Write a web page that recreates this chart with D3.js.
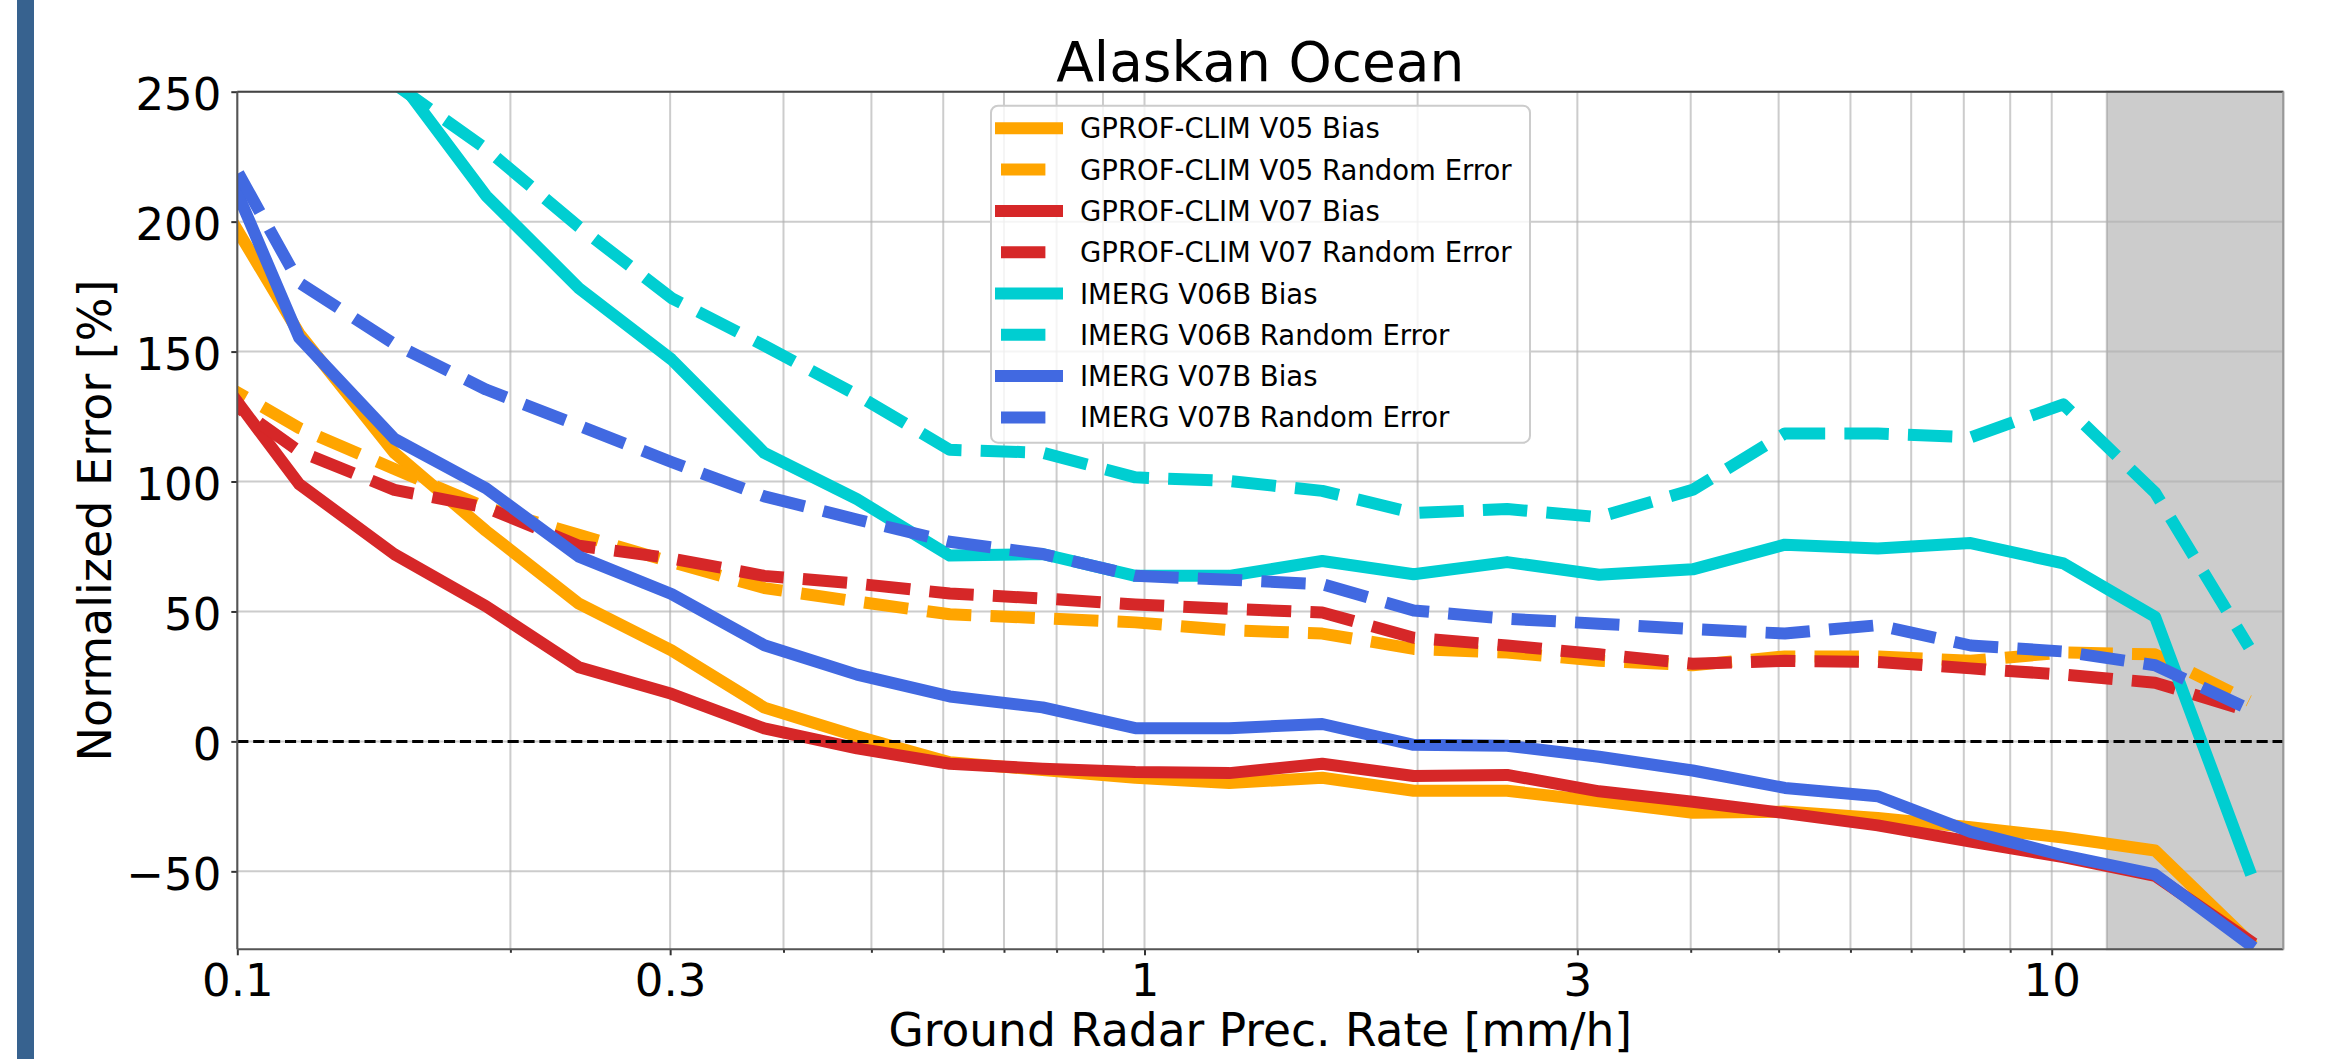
<!DOCTYPE html>
<html>
<head>
<meta charset="utf-8">
<script src="https://cdn.jsdelivr.net/npm/d3@7"></script>
<style>
  body { margin: 0; background: #fff; }
  text { font-family: "DejaVu Sans", sans-serif; fill: #000; }
</style>
</head>
<body>
<svg id="chart" width="2325" height="1059"></svg>
<script>
// ground radar precipitation rate bins [mm/h]
const rates = [0.0927, 0.117, 0.149, 0.188, 0.238, 0.301, 0.381, 0.482, 0.610, 0.772, 0.977, 1.24,
               1.57, 1.98, 2.51, 3.17, 4.02, 5.08, 6.43, 8.14, 10.3, 13.0, 16.5];

const v05Bias   = [216, 157, 111, 81, 53, 35, 13, 2, -8, -11, -14, -16, -14, -19, -19, -23, -27.5, -27, -29.5, -33, -37, -42, -77];
const v05Random = [141, 120.6, 104.8, 90, 79.5, 69, 59, 53.8, 48.9, 47.4, 45.8, 42.8, 41.5, 35.6, 34.2, 31, 29.3, 32.7, 32.7, 31, 34.2, 33.5, 15.6];
const v07Bias   = [146, 99, 72, 52, 28.5, 18.3, 5, -2.7, -8.6, -10.5, -11.8, -12.2, -8.6, -13.3, -12.9, -19.2, -23.2, -27.6, -32.3, -38.6, -44.5, -51.7, -76.5];
const v07Random = [137, 111.6, 96.8, 90, 75.3, 70.4, 63.7, 60.7, 56.9, 55, 52.7, 51, 49.6, 39.9, 36.9, 33.5, 29.9, 31, 30.6, 28.1, 25.7, 22.6, 11.6];
const im6Bias   = [340, 300, 257, 210, 174.4, 147, 111, 93.2, 71.5, 72.1, 63.7, 63.7, 69.4, 64.3, 69, 64.1, 66.2, 75.7, 74.2, 76.3, 68.5, 47.9, -49.1];
const im6Random = [320, 285, 253, 228, 198, 170.6, 152.3, 133.3, 112.2, 111.1, 101.6, 100.2, 96.4, 87.9, 89.4, 86.3, 96.8, 118.5, 118.5, 117, 129.7, 95.7, 36.3];
const im7Bias   = [238, 155.4, 116.4, 97.4, 71.1, 56.7, 37, 25.7, 17.3, 13.1, 5.1, 5.1, 6.7, -1.3, -1.7, -5.9, -11.2, -17.9, -21.1, -34.8, -43.9, -51.2, -78];
const im7Random = [240, 176.5, 152.9, 135.4, 121.5, 107.5, 94.3, 85.4, 76.8, 72.1, 63.7, 62.2, 60.5, 50.4, 47.2, 45.3, 43.2, 41.5, 44.7, 36.9, 34.6, 29.3, 12.4];

const xMajor = [0.1, 0.3, 1, 3, 10];
const xMinor = [0.2, 0.4, 0.5, 0.6, 0.7, 0.8, 0.9, 2, 4, 5, 6, 7, 8, 9];
const yTicks = [-50, 0, 50, 100, 150, 200, 250];
const shadeFrom = 11.5;

const series = [
    {name: "GPROF-CLIM V05 Bias", values: v05Bias, color: "#FFA500", dashed: false},
    {name: "GPROF-CLIM V05 Random Error", values: v05Random, color: "#FFA500", dashed: true},
    {name: "GPROF-CLIM V07 Bias", values: v07Bias, color: "#d62728", dashed: false},
    {name: "GPROF-CLIM V07 Random Error", values: v07Random, color: "#d62728", dashed: true},
    {name: "IMERG V06B Bias", values: im6Bias, color: "#00CED1", dashed: false},
    {name: "IMERG V06B Random Error", values: im6Random, color: "#00CED1", dashed: true},
    {name: "IMERG V07B Bias", values: im7Bias, color: "#4169E1", dashed: false},
    {name: "IMERG V07B Random Error", values: im7Random, color: "#4169E1", dashed: true}
];

const lw = 12;
const dash = (3.7 * lw) + "," + (1.6 * lw);
const margin = {left: 237.3, right: 2283.3, top: 91.7, bottom: 949.3};

const svg = d3.select("#chart");

let x = d3.scaleLog().domain([0.1, 18]).range([margin.left, margin.right]);
let y = d3.scaleLinear().domain([-80, 250]).range([margin.bottom, margin.top]);

// slide edge bar
svg.append("rect").attr("x", 17).attr("y", 0).attr("width", 17).attr("height", 1059).attr("fill", "#37628f");

svg.append("defs").append("clipPath").attr("id", "plotClip")
    .append("rect").attr("x", margin.left).attr("y", margin.top)
    .attr("width", margin.right - margin.left).attr("height", margin.bottom - margin.top);

// shaded high-rate region
svg.append("rect")
    .attr("x", x(shadeFrom)).attr("y", margin.top)
    .attr("width", x(18) - x(shadeFrom)).attr("height", margin.bottom - margin.top)
    .attr("fill", "gray").attr("fill-opacity", 0.4)
    .attr("stroke", "gray").attr("stroke-opacity", 0.4).attr("stroke-width", 2);

// grid
let grid = svg.append("g").attr("stroke", "#b0b0b0").attr("stroke-opacity", 0.65).attr("stroke-width", 2);
yTicks.forEach(t => grid.append("line").attr("x1", margin.left).attr("x2", margin.right).attr("y1", y(t)).attr("y2", y(t)));
xMajor.concat(xMinor).forEach(t => grid.append("line").attr("x1", x(t)).attr("x2", x(t)).attr("y1", margin.top).attr("y2", margin.bottom));

// series
let line = d3.line().x((d, i) => x(rates[i])).y(d => y(d));
let plot = svg.append("g").attr("clip-path", "url(#plotClip)");
series.forEach(s => {
    plot.append("path")
        .datum(s.values)
        .attr("d", line)
        .attr("fill", "none")
        .attr("stroke", s.color)
        .attr("stroke-width", lw)
        .attr("stroke-linejoin", "round")
        .attr("stroke-linecap", s.dashed ? "butt" : "square")
        .attr("stroke-dasharray", s.dashed ? dash : null);
});

// zero line
plot.append("line").attr("x1", margin.left).attr("x2", margin.right).attr("y1", y(0)).attr("y2", y(0))
    .attr("stroke", "#000").attr("stroke-width", 3).attr("stroke-dasharray", "11.1,4.8");

// axes
let yAxis = svg.append("g").attr("transform", `translate(${margin.left},0)`)
    .call(d3.axisLeft(y).tickValues(yTicks).tickSize(6).tickPadding(10).tickFormat(d => d < 0 ? "\u2212" + Math.abs(d) : d));
let xAxis = svg.append("g").attr("transform", `translate(0,${margin.bottom})`)
    .call(d3.axisBottom(x).tickValues(xMajor).tickSize(6).tickPadding(10).tickFormat(d => d));
svg.append("g").attr("transform", `translate(0,${margin.bottom})`)
    .call(d3.axisBottom(x).tickValues(xMinor).tickSize(3.5).tickFormat(""))
    .call(g => g.select(".domain").remove());

[yAxis, xAxis].forEach(a => {
    a.select(".domain").remove();
    a.selectAll(".tick text").attr("font-size", 45).attr("font-family", "DejaVu Sans").attr("fill", "#000");
});
yAxis.selectAll(".tick text").attr("dy", "0.4em");
xAxis.selectAll(".tick text").attr("dy", "0.68em");
svg.selectAll(".tick line").attr("stroke", "#333").attr("stroke-width", 2);

// spines
let spines = svg.append("g").attr("fill", "none").attr("stroke-width", 2);
spines.append("line").attr("x1", margin.left).attr("x2", margin.left).attr("y1", margin.top).attr("y2", margin.bottom).attr("stroke", "#555");
spines.append("line").attr("x1", margin.left).attr("x2", margin.right).attr("y1", margin.bottom).attr("y2", margin.bottom).attr("stroke", "#555");
spines.append("line").attr("x1", margin.left).attr("x2", margin.right).attr("y1", margin.top).attr("y2", margin.top).attr("stroke", "#444");
spines.append("line").attr("x1", margin.right).attr("x2", margin.right).attr("y1", margin.top).attr("y2", margin.bottom).attr("stroke", "#999");

// labels
svg.append("text").attr("x", (margin.left + margin.right) / 2).attr("y", 81).attr("text-anchor", "middle")
    .attr("font-size", 55).text("Alaskan Ocean");
svg.append("text").attr("x", (margin.left + margin.right) / 2).attr("y", 1046).attr("text-anchor", "middle")
    .attr("font-size", 45.5).text("Ground Radar Prec. Rate [mm/h]");
svg.append("text").attr("transform", `translate(111,${(margin.top + margin.bottom) / 2}) rotate(-90)`)
    .attr("text-anchor", "middle").attr("font-size", 46).text("Normalized Error [%]");

// legend
let legend = svg.append("g");
legend.append("rect").attr("x", 991).attr("y", 105.7).attr("width", 539).attr("height", 337).attr("rx", 7)
    .attr("fill", "#fff").attr("fill-opacity", 0.8).attr("stroke", "#cccccc").attr("stroke-width", 2);
series.forEach((s, i) => {
    let cy = 128.3 + i * 41.3;
    legend.append("line").attr("x1", 1001).attr("x2", 1057).attr("y1", cy).attr("y2", cy)
        .attr("stroke", s.color).attr("stroke-width", lw)
        .attr("stroke-linecap", s.dashed ? "butt" : "square")
        .attr("stroke-dasharray", s.dashed ? dash : null);
    legend.append("text").attr("x", 1080).attr("y", cy + 10).attr("font-size", 27.5).text(s.name);
});
</script>
</body>
</html>
